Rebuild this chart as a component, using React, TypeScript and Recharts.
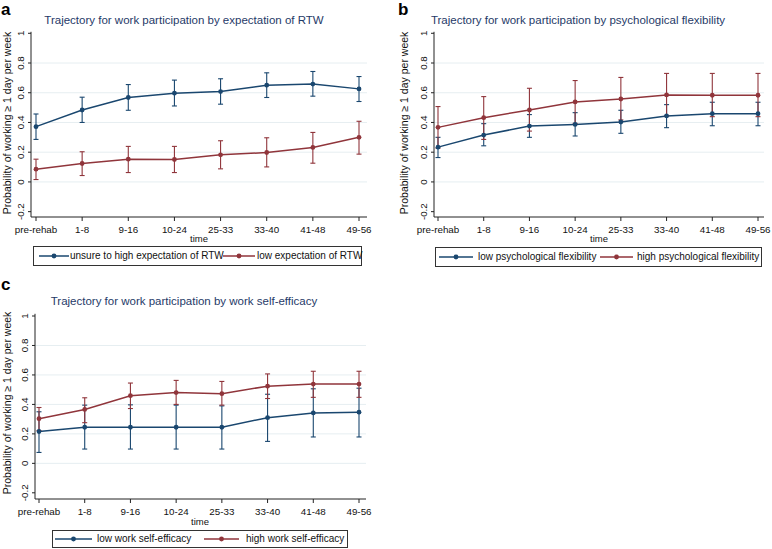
import React from 'react';
import { LineChart, Line, XAxis, YAxis, ErrorBar, CartesianGrid } from 'recharts';

const categories = ['pre-rehab', '1-8', '9-16', '10-24', '25-33', '33-40', '41-48', '49-56'];
const yTicks = [-0.2, 0, 0.2, 0.4, 0.6, 0.8, 1];
const gridValues = [0, 0.2, 0.4, 0.6, 0.8];

// Panel a: expectation of RTW
const aHighLabel = 'unsure to high expectation of RTW';
const aHigh = [0.372, 0.484, 0.568, 0.597, 0.608, 0.651, 0.658, 0.626];
const aHighLo = [0.286, 0.4, 0.482, 0.511, 0.523, 0.568, 0.577, 0.541];
const aHighHi = [0.457, 0.57, 0.655, 0.685, 0.694, 0.734, 0.743, 0.709];
const aLowLabel = 'low expectation of RTW';
const aLow = [0.086, 0.124, 0.153, 0.151, 0.182, 0.198, 0.232, 0.3];
const aLowLo = [0.016, 0.043, 0.063, 0.063, 0.088, 0.101, 0.126, 0.187];
const aLowHi = [0.153, 0.203, 0.239, 0.239, 0.277, 0.297, 0.333, 0.408];

// Panel b: psychological flexibility
const bLowLabel = 'low psychological flexibility';
const bLow = [0.234, 0.315, 0.376, 0.387, 0.403, 0.444, 0.459, 0.459];
const bLowLo = [0.164, 0.243, 0.3, 0.309, 0.327, 0.365, 0.378, 0.378];
const bLowHi = [0.3, 0.392, 0.453, 0.466, 0.482, 0.52, 0.536, 0.536];
const bHighLabel = 'high psychological flexibility';
const bHigh = [0.367, 0.432, 0.484, 0.538, 0.558, 0.585, 0.583, 0.583];
const bHighLo = [0.227, 0.286, 0.342, 0.394, 0.417, 0.444, 0.439, 0.439];
const bHighHi = [0.507, 0.574, 0.63, 0.682, 0.703, 0.73, 0.73, 0.73];

// Panel c: work self-efficacy
const cLowLabel = 'low work self-efficacy';
const cLow = [0.216, 0.245, 0.245, 0.245, 0.245, 0.31, 0.342, 0.347];
const cLowLo = [0.074, 0.097, 0.097, 0.097, 0.097, 0.149, 0.179, 0.179];
const cLowHi = [0.35, 0.395, 0.397, 0.395, 0.39, 0.469, 0.506, 0.51];
const cHighLabel = 'high work self-efficacy';
const cHigh = [0.303, 0.366, 0.459, 0.48, 0.473, 0.524, 0.538, 0.538];
const cHighLo = [0.223, 0.276, 0.372, 0.4, 0.395, 0.44, 0.448, 0.448];
const cHighHi = [0.379, 0.445, 0.545, 0.563, 0.556, 0.607, 0.625, 0.625];

const titles = [
  'Trajectory for work participation by expectation of RTW',
  'Trajectory for work participation by psychological flexibility',
  'Trajectory for work participation by work self-efficacy',
];
const yLabel = 'Probability of working \u2265 1 day per week';
const xLabel = 'time';

const BLUE = '#1a476f';
const RED = '#90353b';
const NAVY = '#1f3a68';
const FONT = '"Liberation Sans", Arial, Helvetica, sans-serif';

function buildRows(v1: number[], lo1: number[], hi1: number[], v2: number[], lo2: number[], hi2: number[]) {
  return categories.map((c, i) => ({
    time: c,
    s1: v1[i],
    e1: [v1[i] - lo1[i], hi1[i] - v1[i]],
    s2: v2[i],
    e2: [v2[i] - lo2[i], hi2[i] - v2[i]],
  }));
}

const YTick = (props: any) => {
  const { x, y, payload } = props;
  return (
    <text
      transform={`translate(${x},${y}) rotate(-90)`}
      textAnchor="middle"
      dy="0.35em"
      fontSize={9.8}
      fill="#111"
      fontFamily={FONT}
    >
      {String(payload.value)}
    </text>
  );
};

type PanelProps = {
  left: number;
  top: number;
  width: number;
  height: number;
  marginTop: number;
  marginRight: number;
  yWidth: number;
  padL: number;
  padR: number;
  domain: [number, number];
  rows: any[];
};

const Panel = ({ left, top, width, height, marginTop, marginRight, yWidth, padL, padR, domain, rows }: PanelProps) => (
  <div style={{ position: 'absolute', left, top, width, height }}>
    <LineChart
      width={width}
      height={height}
      data={rows}
      margin={{ top: marginTop, right: marginRight, bottom: 0, left: 0 }}
    >
      <CartesianGrid horizontal vertical={false} horizontalValues={gridValues} stroke="#e6eef1" strokeWidth={1} />
      <XAxis
        dataKey="time"
        height={28}
        padding={{ left: padL, right: padR }}
        interval={0}
        tickSize={4}
        tickMargin={5}
        tick={{ fontSize: 9.8, fill: '#111', fontFamily: FONT }}
        axisLine={{ stroke: '#222', strokeWidth: 1 }}
        tickLine={{ stroke: '#222', strokeWidth: 1 }}
      />
      <YAxis
        type="number"
        width={yWidth}
        domain={domain}
        ticks={yTicks}
        allowDataOverflow
        interval={0}
        tickSize={3}
        tickMargin={7}
        tick={<YTick />}
        axisLine={{ stroke: '#222', strokeWidth: 1 }}
        tickLine={{ stroke: '#222', strokeWidth: 1 }}
      />
      <Line
        dataKey="s1"
        stroke={BLUE}
        strokeWidth={1.5}
        dot={{ r: 2.4, fill: BLUE, stroke: BLUE, strokeWidth: 0 }}
        activeDot={false}
        isAnimationActive={false}
      >
        <ErrorBar dataKey="e1" width={2.5} stroke={BLUE} strokeWidth={1.1} direction="y" isAnimationActive={false} />
      </Line>
      <Line
        dataKey="s2"
        stroke={RED}
        strokeWidth={1.5}
        dot={{ r: 2.4, fill: RED, stroke: RED, strokeWidth: 0 }}
        activeDot={false}
        isAnimationActive={false}
      >
        <ErrorBar dataKey="e2" width={2.5} stroke={RED} strokeWidth={1.1} direction="y" isAnimationActive={false} />
      </Line>
    </LineChart>
  </div>
);

type LegendItem = { label: string; color: string; lineX: number; lineW: number; textX: number };

const LegendBox = ({ left, top, width, height, items }: { left: number; top: number; width: number; height: number; items: LegendItem[] }) => (
  <div
    style={{
      position: 'absolute',
      left,
      top,
      width,
      height,
      border: '1px solid #333',
      boxSizing: 'border-box',
      background: '#fff',
    }}
  >
    {items.map((it) => (
      <React.Fragment key={it.label}>
        <svg
          style={{ position: 'absolute', left: it.lineX - left - 1, top: 0, overflow: 'visible' }}
          width={it.lineW}
          height={height - 2}
        >
          <line x1={0} x2={it.lineW} y1={(height - 2) / 2} y2={(height - 2) / 2} stroke={it.color} strokeWidth={1.5} />
          <circle cx={it.lineW / 2} cy={(height - 2) / 2} r={2.4} fill={it.color} />
        </svg>
        <span
          style={{
            position: 'absolute',
            left: it.textX - left - 1,
            top: (height - 2) / 2,
            transform: 'translateY(-52%)',
            fontSize: 10,
            lineHeight: '10px',
            whiteSpace: 'nowrap',
            color: '#111',
            fontFamily: FONT,
          }}
        >
          {it.label}
        </span>
      </React.Fragment>
    ))}
  </div>
);

export default function App() {
  const rowsA = buildRows(aHigh, aHighLo, aHighHi, aLow, aLowLo, aLowHi);
  const rowsB = buildRows(bLow, bLowLo, bLowHi, bHigh, bHighLo, bHighHi);
  const rowsC = buildRows(cLow, cLowLo, cLowHi, cHigh, cHighLo, cHighHi);

  return (
    <div style={{ position: 'absolute', left: 0, top: 0, width: 772, height: 549, background: '#fff', fontFamily: FONT, overflow: 'hidden' }}>
      <Panel left={0} top={0} width={386} height={245} marginTop={31.8} marginRight={19} yWidth={31} padL={5} padR={8} domain={[-0.236, 1.01]} rows={rowsA} />
      <Panel left={386} top={0} width={386} height={245} marginTop={31.8} marginRight={8} yWidth={48} padL={4} padR={6} domain={[-0.236, 1.01]} rows={rowsB} />
      <Panel left={0} top={275} width={386} height={252} marginTop={38.8} marginRight={20} yWidth={35} padL={4} padR={7} domain={[-0.242, 1.015]} rows={rowsC} />

      <svg width={772} height={549} style={{ position: 'absolute', left: 0, top: 0, pointerEvents: 'none' }}>
        <g fontFamily={FONT}>
          <text x={1} y={15} fontSize={17} fontWeight="bold" fill="#000">a</text>
          <text x={398} y={15} fontSize={17} fontWeight="bold" fill="#000">b</text>
          <text x={1} y={290} fontSize={17} fontWeight="bold" fill="#000">c</text>

          <text x={184} y={24} fontSize={11.5} fill={NAVY} textAnchor="middle">{titles[0]}</text>
          <text x={578} y={23.5} fontSize={11.5} fill={NAVY} textAnchor="middle">{titles[1]}</text>
          <text x={184} y={305} fontSize={11.5} fill={NAVY} textAnchor="middle">{titles[2]}</text>

          <text transform="translate(7.5,123) rotate(-90)" dy="0.35em" fontSize={10.5} fill="#111" textAnchor="middle">{yLabel}</text>
          <text transform="translate(404,123) rotate(-90)" dy="0.35em" fontSize={10.5} fill="#111" textAnchor="middle">{yLabel}</text>
          <text transform="translate(7,403) rotate(-90)" dy="0.35em" fontSize={10.5} fill="#111" textAnchor="middle">{yLabel}</text>

          <text x={199} y={241.5} fontSize={9.5} fill="#111" textAnchor="middle">{xLabel}</text>
          <text x={599} y={241.5} fontSize={9.5} fill="#111" textAnchor="middle">{xLabel}</text>
          <text x={200} y={524.5} fontSize={9.5} fill="#111" textAnchor="middle">{xLabel}</text>
        </g>
      </svg>

      <LegendBox
        left={33}
        top={246}
        width={329}
        height={20}
        items={[
          { label: aHighLabel, color: BLUE, lineX: 39, lineW: 30, textX: 70 },
          { label: aLowLabel, color: RED, lineX: 223, lineW: 32, textX: 257 },
        ]}
      />
      <LegendBox
        left={435}
        top={247}
        width={327}
        height={20}
        items={[
          { label: bLowLabel, color: BLUE, lineX: 439, lineW: 34, textX: 478 },
          { label: bHighLabel, color: RED, lineX: 600, lineW: 33, textX: 637 },
        ]}
      />
      <LegendBox
        left={52}
        top={530}
        width={296}
        height={18}
        items={[
          { label: cLowLabel, color: BLUE, lineX: 55, lineW: 37, textX: 97 },
          { label: cHighLabel, color: RED, lineX: 204, lineW: 35, textX: 246 },
        ]}
      />
    </div>
  );
}
